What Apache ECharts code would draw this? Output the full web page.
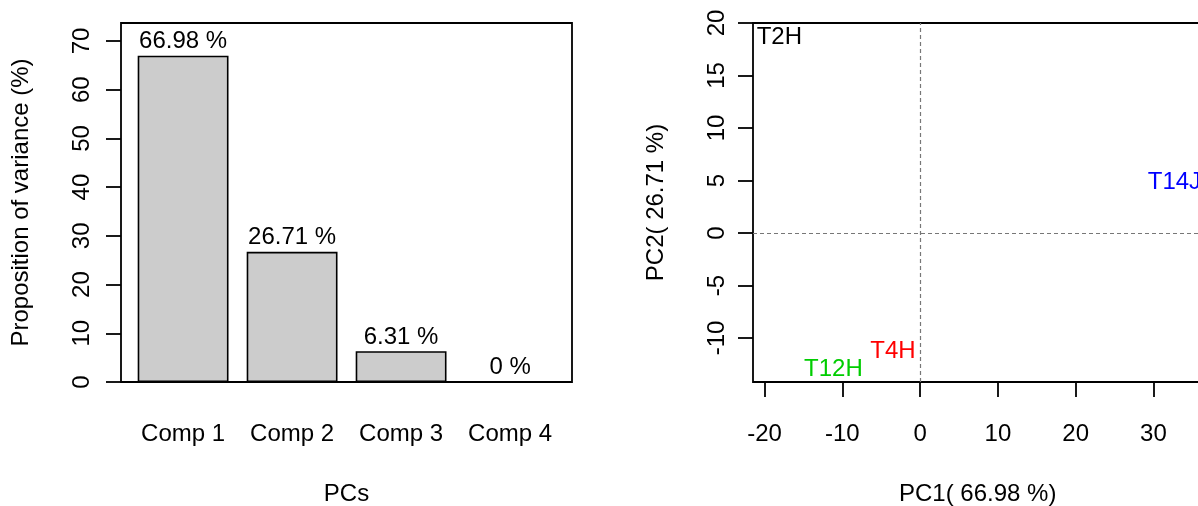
<!DOCTYPE html>
<html>
<head>
<meta charset="utf-8">
<script src="https://cdn.jsdelivr.net/npm/echarts@6/dist/echarts.min.js"></script>
<style>
  html, body { margin: 0; padding: 0; background: #ffffff; }
  #chart { width: 1198px; height: 506px; }
</style>
</head>
<body>
<div id="chart"></div>
<script>
// Scree data: share of variance per principal component
const components = ['Comp 1', 'Comp 2', 'Comp 3', 'Comp 4'];
const variance = [66.98, 26.71, 6.31, 0];
const varianceTicks = [0, 10, 20, 30, 40, 50, 60, 70];

// Sample scores on the first two components
const samples = ['T2H', 'T4H', 'T12H', 'T14J'];
const pc1 = [-18.1, -3.5, -11.15, 32.7];
const pc2 = [18.6, -11.3, -13.0, 4.8];
const sampleColors = ['#000000', '#FF0000', '#00CD00', '#0000FF'];
const pc1Ticks = [-20, -10, 0, 10, 20, 30];
const pc2Ticks = [-10, -5, 0, 5, 10, 15, 20];

const FONT = '"Liberation Sans", Arial, Helvetica, sans-serif';
const txt = { fontFamily: FONT, fontSize: 24, color: '#000000', lineHeight: 24 };
const tickStyle = { color: '#000000', width: 1.8 };
const noLine = { show: false, onZero: false };

const chart = echarts.init(document.getElementById('chart'), null, { renderer: 'canvas' });

chart.setOption({
  animation: false,
  backgroundColor: '#ffffff',
  textStyle: { fontFamily: FONT },
  grid: [
    // bar placement area
    { left: 128.6, top: 23, width: 436, height: 359, outerBoundsMode: 'none' },
    // frame around the bar plot
    { left: 121, top: 23, width: 451, height: 359, show: true, z: 3, outerBoundsMode: 'none',
      borderColor: '#000000', borderWidth: 1.8, backgroundColor: 'transparent' },
    // score plot (its right side runs past the canvas edge)
    { left: 753, top: 23, width: 449.4, height: 359, show: true, outerBoundsMode: 'none',
      borderColor: '#000000', borderWidth: 1.8, backgroundColor: 'transparent' }
  ],
  xAxis: [
    { gridIndex: 0, type: 'category', data: components,
      axisLine: noLine, axisTick: { show: false },
      axisLabel: Object.assign({ interval: 0, margin: 40 }, txt) },
    { gridIndex: 1, type: 'value', min: 0, max: 1,
      name: 'PCs', nameLocation: 'middle', nameGap: 100, nameTextStyle: txt,
      axisLine: noLine, axisTick: { show: false }, axisLabel: { show: false },
      splitLine: { show: false } },
    { gridIndex: 2, type: 'value', min: -21.49, max: 36.3,
      name: 'PC1( ' + variance[0] + ' %)', nameLocation: 'middle', nameGap: 100, nameTextStyle: txt,
      axisLine: noLine,
      axisTick: { show: true, customValues: pc1Ticks, length: 15, lineStyle: tickStyle },
      axisLabel: Object.assign({ customValues: pc1Ticks, margin: 40 }, txt),
      splitLine: { show: false } }
  ],
  yAxis: [
    { gridIndex: 0, type: 'value', min: 0, max: 73.68, show: false },
    { gridIndex: 1, type: 'value', min: 0, max: 73.68,
      name: 'Proposition of variance (%)', nameLocation: 'middle', nameGap: 88, nameTextStyle: txt,
      axisLine: noLine,
      axisTick: { show: true, customValues: varianceTicks, length: 15, lineStyle: tickStyle },
      axisLabel: Object.assign({ customValues: varianceTicks, rotate: 90, margin: 27 }, txt),
      splitLine: { show: false } },
    { gridIndex: 2, type: 'value', min: -14.19, max: 20,
      name: 'PC2( ' + variance[1] + ' %)', nameLocation: 'middle', nameGap: 85, nameTextStyle: txt,
      axisLine: noLine,
      axisTick: { show: true, customValues: pc2Ticks, length: 15, lineStyle: tickStyle },
      axisLabel: Object.assign({ customValues: pc2Ticks, rotate: 90, margin: 24 }, txt),
      splitLine: { show: false } }
  ],
  series: [
    {
      type: 'bar', xAxisIndex: 0, yAxisIndex: 0,
      data: variance,
      barCategoryGap: '16.667%',
      itemStyle: { color: '#CCCCCC', borderColor: '#000000', borderWidth: 1.6 },
      label: Object.assign({
        show: true, position: 'top', distance: 2,
        formatter: p => p.value + ' %'
      }, txt),
      emphasis: { disabled: true },
      silent: true
    },
    {
      type: 'scatter', xAxisIndex: 2, yAxisIndex: 2,
      clip: false,
      symbolSize: 1,
      itemStyle: { color: 'rgba(0,0,0,0)', opacity: 1 },
      data: samples.map((s, i) => ({
        name: s,
        value: [pc1[i], pc2[i]],
        label: { color: sampleColors[i] }
      })),
      label: {
        show: true, position: 'inside', formatter: '{b}', opacity: 1,
        fontFamily: FONT, fontSize: 24, lineHeight: 24
      },
      labelLayout: { hideOverlap: false },
      emphasis: { disabled: true },
      silent: true,
      markLine: {
        silent: true,
        symbol: ['none', 'none'],
        label: { show: false },
        lineStyle: { type: [4, 3], color: '#777777', width: 1.2 },
        emphasis: { disabled: true },
        data: [{ xAxis: 0 }, { yAxis: 0 }]
      }
    }
  ]
});
</script>
</body>
</html>
